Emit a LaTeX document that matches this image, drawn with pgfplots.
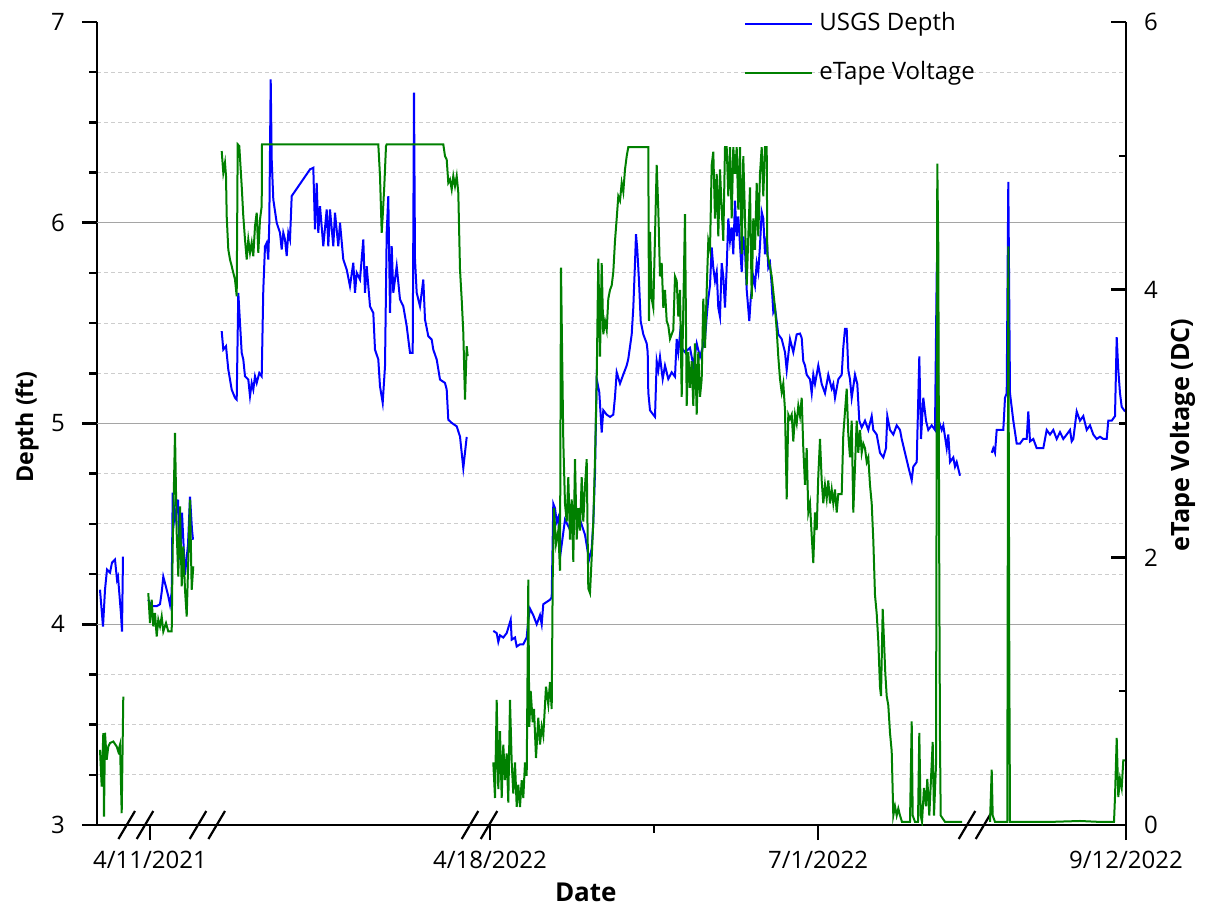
\documentclass[border=0pt]{standalone}
\usepackage{fontspec}
\setmainfont{Open Sans}
\usepackage{pgfplots}
\pgfplotsset{compat=1.18}
\usepackage{pgfplotstable}
\definecolor{cblue}{RGB}{0,0,255}
\definecolor{cgreen}{RGB}{0,128,0}
\definecolor{gmaj}{RGB}{165,165,165}
\definecolor{gmin}{RGB}{205,205,205}
\tikzset{brk/.style={black, line width=1.1pt}}

% x = position along the broken date axis (plot units), y = depth (ft)
\pgfplotstableread{
x y
100 4.172
103 3.988
105 4.172
107 4.272
110 4.257
112 4.307
115 4.322
117 4.222
118 4.237
121 4.05
122 3.963
123 4.337
135 nan
148.3 4.122
151.7 4.09
156.7 4.09
160 4.10
161.7 4.16
163.3 4.237
166.7 4.172
168.3 4.14
170 4.097
171.7 4.16
172.7 4.656
175 4.521
178 4.621
180 4.322
182 4.556
185 4.247
188 4.396
190 4.636
192 4.471
193 4.421
207 nan
221.7 5.460
223.3 5.368
226 5.385
228.3 5.269
231.7 5.169
235 5.128
236.7 5.119
238.3 5.651
241.7 5.352
243.3 5.319
245 5.235
248.3 5.219
250 5.136
251.7 5.202
253.3 5.169
255 5.235
256.7 5.202
259.3 5.252
261.7 5.235
263.3 5.667
265 5.883
266.7 5.900
268.3 5.817
269.3 6.000
270.7 6.714
271.7 6.316
273.3 6.116
276.7 6.000
280 5.950
281.7 5.867
283.3 5.950
285 5.917
286.7 5.834
288.3 5.950
290 5.917
291.7 6.133
310 6.266
313.3 6.274
315 5.967
316.7 6.199
318.3 5.950
320 6.083
323.3 5.883
326.7 6.066
328.3 5.883
330 6.066
333.3 5.883
335 6.050
338.3 5.883
340 6.000
343.3 5.817
346.7 5.767
350 5.684
353.3 5.801
355 5.651
356.7 5.751
360 5.717
363.3 5.917
365 5.651
366.7 5.784
370 5.584
373.3 5.551
375 5.368
378.3 5.319
380 5.185
382.7 5.103
385 5.285
386.7 5.950
388.3 6.133
390 5.551
391.7 5.883
393.3 5.651
396.7 5.784
400 5.618
403.3 5.584
406.7 5.485
410 5.352
412.7 5.352
414 6.648
415 5.817
416.7 5.651
420 5.584
423.3 5.717
425 5.518
428.3 5.435
431.7 5.418
433.3 5.368
436.7 5.319
440 5.219
445 5.202
446.7 5.169
448.3 5.019
451.7 5.003
456.7 4.986
460 4.935
463.3 4.778
466.7 4.933
480 nan
493.3 3.967
496.7 3.956
498.3 3.912
500 3.945
503.3 3.934
506.7 3.956
510.7 4.022
511.7 3.923
515 3.934
516.7 3.889
520 3.900
523.3 3.900
526.7 3.934
528.3 4.022
530 4.078
533.3 4.045
536.7 4.000
540 4.045
541.7 4.000
543.3 4.100
546.7 4.111
550 4.122
551.7 4.134
553.3 4.600
555 4.578
556.7 4.511
558.3 4.533
560 4.333
565 4.521
570 4.471
575 4.571
580 4.521
585 4.446
589 4.322
591.7 4.376
593.3 4.506
595 4.755
596.7 5.222
599.3 5.155
601.7 4.955
603.3 5.066
606.7 5.044
610 5.033
613.3 5.044
615 5.133
616.7 5.255
620 5.199
623.3 5.244
626.7 5.289
628.3 5.322
631.7 5.444
633.3 5.577
635 5.799
636 5.943
637.3 5.865
639 5.710
640.7 5.510
643.3 5.444
646.7 5.399
647.7 5.355
648.3 5.155
650 5.066
653.3 5.044
655 5.033
656.7 5.311
658.3 5.266
660 5.332
662.7 5.222
665 5.289
668.3 5.222
671.7 5.255
675 5.233
676.7 5.421
678.3 5.355
680 5.444
681.7 5.377
685 5.355
690 5.377
693.3 5.289
696.7 5.399
700 5.332
705 5.421
706.7 5.532
708.3 5.621
710 5.688
711.7 5.877
713.3 5.777
715 5.710
716.7 5.755
718.3 5.577
720 5.532
721.7 5.799
723.3 5.732
725 5.577
726.7 5.777
728.3 6.021
730 5.910
731.7 5.977
733.3 5.843
735 6.110
736.7 5.932
738.3 6.032
740 5.888
741.7 5.755
743.3 5.932
745 5.865
746.7 5.666
749.3 5.510
750.7 5.621
753.3 5.732
755 5.688
756.7 5.799
758.3 5.755
760 5.888
761.7 6.054
763.3 6.021
765 5.843
766.7 5.932
768.3 5.777
770 5.799
771.7 5.688
773.3 5.555
775 5.577
778.3 5.444
781.7 5.421
785 5.355
786.7 5.266
790 5.421
793.3 5.355
796.7 5.444
800 5.448
801.7 5.426
803.3 5.311
805 5.289
806.7 5.243
810 5.220
811.7 5.151
813.3 5.243
815 5.197
818.3 5.289
821.7 5.197
825 5.151
828.3 5.243
831.7 5.174
833.3 5.197
835 5.128
838.3 5.220
841.7 5.243
843.3 5.380
845 5.471
846.7 5.471
848.3 5.266
850 5.220
851.7 5.128
855 5.243
857.3 5.197
859.3 5.014
861.7 4.980
865 5.014
868.3 4.968
871.7 5.037
873.3 4.968
876.7 4.945
880 4.854
883.3 4.831
886 4.877
887.3 5.037
890 4.968
893.3 4.945
896.7 4.991
900 4.968
901.7 4.923
905 4.854
908.3 4.785
911.7 4.717
913.3 4.785
916.7 4.808
919.3 5.334
921 4.923
923.3 5.128
926 5.014
928.3 4.968
931.7 4.991
935 4.968
936.7 5.746
937.5 5.900
938.5 5.017
941.7 4.968
943.3 4.991
946.7 4.877
948.3 4.945
950 4.808
953.3 4.831
955 4.785
956.7 4.808
960 4.740
975 nan
991.7 4.854
993.3 4.877
995 4.854
996.7 4.968
1000 4.968
1003.3 4.968
1005 5.128
1006.7 5.151
1008.3 6.203
1010 5.151
1013.3 5.014
1016.7 4.900
1020 4.900
1023.3 4.923
1026.7 4.923
1028.3 5.060
1030 4.911
1033.3 4.923
1036.7 4.877
1040 4.877
1043.3 4.877
1046.7 4.968
1050 4.945
1053.3 4.968
1056.7 4.923
1060 4.957
1063.3 4.923
1066.7 4.945
1070 4.968
1071.7 4.911
1073.3 4.923
1076.7 5.060
1080 5.014
1083.3 5.037
1086.7 4.968
1090 4.991
1093.3 4.945
1096.7 4.923
1100 4.934
1103.3 4.923
1106.7 4.923
1108.3 5.014
1111.7 5.014
1115 5.037
1116.7 5.430
1118.3 5.266
1120 5.151
1121.7 5.083
1125 5.060
}\depthdata

% x = position along the broken date axis, y = eTape voltage (V DC)
\pgfplotstableread{
x y
100 0.562
101.7 0.287
103.3 0.686
104 0.063
105 0.689
106.7 0.487
108.3 0.586
110 0.612
113.3 0.624
116.7 0.586
118.3 0.549
120 0.599
121.7 0.088
123.3 0.960
135 nan
148.3 1.733
150 1.509
151.7 1.683
153.3 1.484
155 1.584
156.7 1.409
158.3 1.534
160 1.484
161.7 1.558
163.3 1.446
166 1.509
168.3 1.446
171.7 1.446
172.7 2.082
175 2.930
176.7 2.182
178.3 1.857
180 2.381
181.7 1.783
183.3 2.082
185 1.758
186.7 1.558
188.3 1.982
190 2.431
191.7 1.758
193.3 1.932
207 nan
221.7 5.036
223.3 4.874
225 4.949
226 4.849
226.7 4.549
228.3 4.300
230 4.226
231.7 4.176
233.3 4.126
235 4.076
236.7 3.951
237.7 5.086
239.3 5.073
241.7 4.774
243.3 4.549
245 4.375
246.7 4.226
248.3 4.375
250 4.276
251.7 4.351
253.3 4.250
255 4.475
256.7 4.575
258.3 4.276
260 4.525
261.7 4.624
262 5.086
378.3 5.086
380 4.849
381.7 4.425
382.7 4.549
384.3 4.774
386 5.073
386.7 5.086
443.3 5.086
445 4.998
446.7 4.973
448.3 4.799
450 4.824
451.7 4.749
453.3 4.849
455 4.774
456.7 4.849
458.3 4.724
460 4.151
461.7 3.927
463.3 3.678
465 3.179
466.7 3.577
467.7 3.503
480 nan
493.3 0.468
495 0.202
496.7 0.934
498.3 0.268
500 0.701
501.7 0.202
503.3 0.601
505 0.335
506.7 0.535
508.3 0.168
510 0.934
511.7 0.468
513.3 0.235
515 0.468
516.7 0.135
518.3 0.301
520 0.135
521.7 0.335
523.3 0.202
525 0.468
526.7 0.368
528.3 1.834
529.3 0.734
530.7 1.001
532.7 0.768
534 0.867
536 0.501
538.3 0.801
540 0.601
541.7 0.734
543.3 0.668
546 1.034
548.3 0.901
550 1.068
551.7 0.867
552.7 1.834
554 2.367
556 2.100
558.3 2.200
560 1.900
561 4.165
562 3.599
563.3 2.866
565 2.400
566.7 2.267
568.3 2.600
570 2.133
571.7 2.433
573.3 1.967
575 2.733
576.7 2.133
578.3 2.367
580 2.200
581.7 2.600
583.3 2.267
585 2.533
586.7 2.733
588.3 1.767
590 1.733
591.7 2.000
593.3 2.267
595 2.733
596.7 3.333
598.3 4.232
600 3.499
601.7 4.199
603.3 3.666
605 3.766
606.7 3.699
608.3 3.932
610 3.998
611.7 4.032
613.3 4.132
615 4.365
616.7 4.532
618.3 4.698
620 4.665
621.7 4.798
623.3 4.731
625 4.898
626.7 4.998
628.3 5.065
648.3 5.065
649 3.766
650 4.432
651.7 3.932
653.3 3.865
655 4.398
656.7 4.932
658.3 4.598
660 4.099
661.7 4.199
663.3 3.865
665 3.998
666.7 3.766
668.3 3.732
670 3.632
673.3 3.699
675 4.099
676.7 4.066
678.3 3.799
680 3.998
681.7 3.199
683.3 3.865
685 4.565
686.7 3.132
688.3 3.533
690 3.266
691.7 3.466
693.3 3.132
695 3.599
696.7 3.066
698.3 3.533
700 3.199
701.7 3.333
703.3 3.932
705 3.565
706.7 3.998
708.3 4.365
710 4.298
711.7 4.932
713.3 5.031
715 4.532
716.7 4.865
718.3 4.398
720 4.898
721.7 4.598
723.3 4.365
725 5.065
726.7 5.065
728.3 4.698
730 5.065
731.7 4.532
733.3 5.065
735 4.865
736.7 5.065
738.3 4.598
740 5.065
741.7 4.265
743.3 4.998
745 4.532
746.7 4.032
748.3 4.398
750 4.765
751.7 3.932
753.3 4.532
755 4.298
756.7 4.798
758.3 4.398
760 4.865
761.7 5.065
763.3 4.698
765 5.065
766.7 5.065
767.3 4.265
769.3 4.199
771.7 4.099
775 3.865
776.7 3.699
778.3 3.499
780 3.333
781.7 3.233
783.3 3.299
785 3.100
786.7 2.433
788.3 3.066
790 3.033
791.7 3.066
793.3 2.866
795 3.066
796.7 2.999
798.3 3.132
800 3.055
801.7 3.192
803.3 2.815
805 2.541
806.7 2.815
808.3 2.335
810 2.403
811.7 2.163
813.3 1.958
815 2.335
816.7 2.204
818.3 2.610
820 2.884
821.7 2.575
823.3 2.403
825 2.541
826.7 2.438
828.3 2.575
830 2.403
831.7 2.507
833.3 2.403
835 2.507
836.7 2.335
838.3 2.472
841.7 2.472
843.3 2.918
845 3.090
846.7 3.261
848.3 2.918
850 2.747
851.7 3.021
853.3 2.335
855 2.678
856.7 3.021
858.3 2.781
860 2.952
861.7 2.781
863.3 2.850
865 2.815
866.7 2.712
868.3 2.747
870 2.541
871.7 2.403
873.3 2.129
875 1.718
876.7 1.580
878.3 1.374
880 1.031
881 0.963
882.7 1.614
884 1.374
885.3 1.134
886.7 0.963
888.3 0.894
890 0.689
891.7 0.551
893.3 0.071
895 0.140
896.7 0.071
898.3 0.123
900 0.071
902 0.023
910 0.023
911.7 0.774
912.7 0.071
915 0.023
918 0.023
919.3 0.689
920.7 0.071
922 0.023
924 0.277
926 0.140
927.3 0.345
929.3 0.071
932.7 0.620
934 0.071
936 0.449
937.3 4.942
938.3 4.324
939.3 1.820
940 0.620
940.7 0.071
945 0.023
962 0.023
975 nan
990 0.023
991.7 0.414
992.7 0.071
995 0.023
1007.3 0.023
1008.3 4.324
1009.3 1.203
1010 0.023
1050 0.023
1080 0.030
1100 0.023
1114 0.023
1115 0.209
1116.7 0.650
1118.3 0.209
1120 0.345
1121.7 0.277
1123.3 0.482
1125 0.482
}\voltdata

\begin{document}
\begin{tikzpicture}
\pgfplotsset{
  common/.style={
    width=514.5pt, height=401.5pt, scale only axis,
    xmin=97, xmax=1126,
    unbounded coords=jump,
    /pgf/number format/assume math mode=true,
    ticklabel style={font=\fontsize{12}{14}\selectfont},
    every tick/.style={black, line width=1.3pt},
    axis line style={line width=1.4pt, -},
    major tick length=7.5pt, minor tick length=3.75pt,
  },
}
\begin{axis}[common, name=ax,
  ymin=3, ymax=7,
  axis x line*=bottom, axis y line*=left,
  tick align=outside,
  xtick={150,490,818,1126},
  xticklabels={4/11/2021,4/18/2022,7/1/2022,9/12/2022},
  xticklabel style={yshift=-2pt},
  yticklabel style={xshift=-5pt},
  minor xtick={654},
  ytick={3,4,5,6,7},
  minor ytick={3.25,3.5,3.75,4.25,4.5,4.75,5.25,5.5,5.75,6.25,6.5,6.75},
  yminorgrids=true,
  minor grid style={gmin, line width=0.5pt, dash pattern=on 2pt off 1.5pt},
  major grid style={gmaj, line width=0.6pt},
  extra y ticks={4,5,6}, extra y tick labels={},
  extra y tick style={grid=major, major tick length=0pt},
  clip=false,
]
\addplot[cblue, line width=1pt] table {\depthdata};
% axis break marks
\draw[brk] ([shift={(-4.15pt,-7pt)}]axis cs:126.7,3) -- ([shift={(4.15pt,7pt)}]axis cs:126.7,3);
\draw[brk] ([shift={(-4.15pt,-7pt)}]axis cs:145,3) -- ([shift={(4.15pt,7pt)}]axis cs:145,3);
\draw[brk] ([shift={(-4.15pt,-7pt)}]axis cs:198,3) -- ([shift={(4.15pt,7pt)}]axis cs:198,3);
\draw[brk] ([shift={(-4.15pt,-7pt)}]axis cs:216.7,3) -- ([shift={(4.15pt,7pt)}]axis cs:216.7,3);
\draw[brk] ([shift={(-4.15pt,-7pt)}]axis cs:470,3) -- ([shift={(4.15pt,7pt)}]axis cs:470,3);
\draw[brk] ([shift={(-4.15pt,-7pt)}]axis cs:489,3) -- ([shift={(4.15pt,7pt)}]axis cs:489,3);
\draw[brk] ([shift={(-4.15pt,-7pt)}]axis cs:967,3) -- ([shift={(4.15pt,7pt)}]axis cs:967,3);
\draw[brk] ([shift={(-4.15pt,-7pt)}]axis cs:984,3) -- ([shift={(4.15pt,7pt)}]axis cs:984,3);
\end{axis}
\begin{axis}[common,
  ymin=0, ymax=6,
  axis x line=none, axis y line*=right,
  tick align=inside,
  yticklabel style={xshift=5.5pt},
  ytick={0,2,4,6}, minor ytick={1,3,5},
  legend image code/.code={\draw[#1, line width=1pt] (0pt,0pt) -- (33.5pt,0pt); \path (36.5pt,0pt);},
  legend style={at={(rel axis cs:0.6297,1)}, anchor=north west, xshift=-3.5pt, yshift=7pt,
    draw=none, fill=none, font=\fontsize{12}{14}\selectfont,
    nodes={inner sep=0pt, text height=9pt, text depth=3pt},
    row sep=12.5pt},
  legend cell align=left,
]
\addlegendimage{cblue}
\addlegendentry{USGS Depth}
\addplot[cgreen, line width=1pt] table {\voltdata};
\addlegendentry{eTape Voltage}
\end{axis}
\node[font=\bfseries\fontsize{13}{15}\selectfont, anchor=base] at ([shift={(244.4pt,-38.3pt)}]ax.south west) {Date};
\node[font=\bfseries\fontsize{11.6}{14}\selectfont, rotate=90, anchor=center] at ([shift={(-35pt,199pt)}]ax.south west) {Depth (ft)};
\node[font=\bfseries\fontsize{12.6}{15}\selectfont, rotate=90, anchor=center] at ([shift={(543pt,195pt)}]ax.south west) {eTape Voltage (DC)};
\pgfresetboundingbox
\path[use as bounding box] ([shift={(-48.5pt,-41pt)}]ax.south west) rectangle ([shift={(554.5pt,412.5pt)}]ax.south west);
\end{tikzpicture}
\end{document}
